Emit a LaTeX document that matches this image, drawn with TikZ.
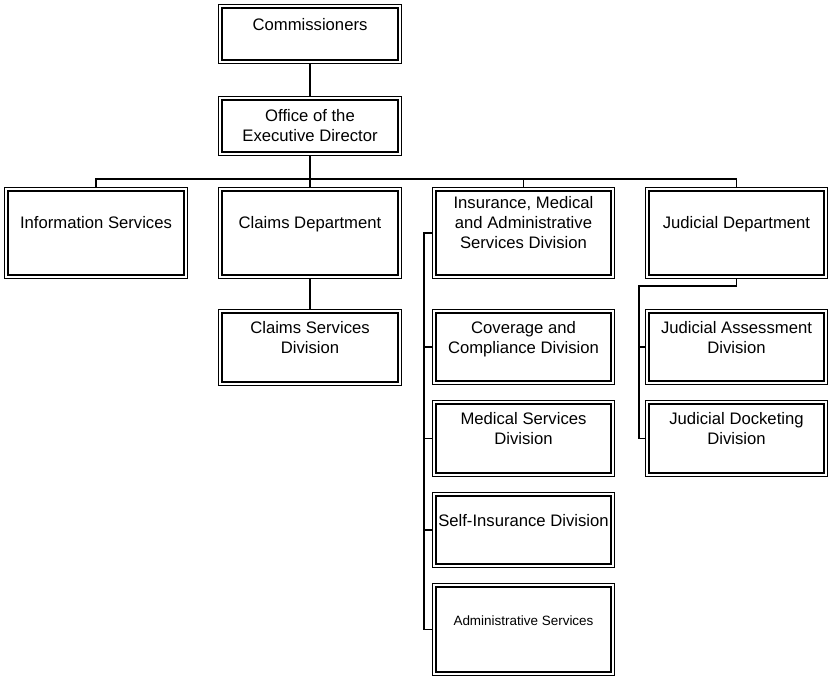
\documentclass[tikz,border=0pt]{standalone}
\usepackage{fontspec}
\setmainfont{Liberation Sans}
\newcommand\ftop{\rule{0pt}{10pt}}
\begin{document}
\begin{tikzpicture}[x=0.75pt,y=-0.75pt,
  orgbox/.style={draw=black, line width=0.9pt, double=white, double distance=1.6pt, inner sep=0pt, outer sep=2pt},
  lbl/.style={inner sep=0pt, align=center, anchor=north, yshift=10pt, font=\fontsize{12.5}{15}\selectfont},
  small/.style={font=\fontsize{10.1}{12}\selectfont},
  conn/.style={draw=black, line width=1pt}]
\useasboundingbox (0,0) rectangle (829,677);
\fill[white] (0,0) rectangle (829,677);
\newcommand\ob[5]{\node[orgbox, minimum width={(#4-#2-4.5)*0.75pt}, minimum height={(#5-#3-4.5)*0.75pt}] (#1) at ({(#2+#4)/2},{(#3+#5)/2}) {};}
\ob{comm}{218}{4}{402}{64}
\ob{office}{218}{96}{402}{156}
\ob{info}{4}{187}{188}{279}
\ob{claims}{218}{187}{402}{279}
\ob{ins}{432}{187}{615}{279}
\ob{jud}{645}{187}{828}{279}
\ob{csd}{218}{309}{402}{386}
\ob{cov}{432}{309}{615}{385}
\ob{med}{432}{400}{615}{477}
\ob{self}{432}{492}{615}{568}
\ob{admin}{432}{583}{615}{676}
\ob{jass}{645}{309}{828}{385}
\ob{jdock}{645}{400}{828}{477}
% labels
\node[lbl] (comm-t) at (310,30) {\ftop Commissioners};
\node[lbl] (office-t) at (310,121) {\ftop Office of the\\Executive Director};
\node[lbl] (info-t) at (96,228) {\ftop Information Services};
\node[lbl] (claims-t) at (310,228) {\ftop Claims Department};
\node[lbl] (ins-t) at (523.5,208) {\ftop Insurance, Medical\\and Administrative\\Services Division};
\node[lbl] (jud-t) at (736.5,228) {\ftop Judicial Department};
\node[lbl] (csd-t) at (310,333) {\ftop Claims Services\\Division};
\node[lbl] (cov-t) at (523.5,333) {\ftop Coverage and\\Compliance Division};
\node[lbl] (med-t) at (523.5,424) {\ftop Medical Services\\Division};
\node[lbl] (self-t) at (523.5,526) {\ftop Self-Insurance Division};
\node[lbl, small] (admin-t) at (523.5,625) {\ftop Administrative Services};
\node[lbl] (jass-t) at (736.5,333) {\ftop Judicial Assessment\\Division};
\node[lbl] (jdock-t) at (736.5,424) {\ftop Judicial Docketing\\Division};
% connectors
\coordinate (busy) at (0,179);
\coordinate (ispine) at (424,0);
\coordinate (jspine) at (639,286);
\draw[conn] (comm) -- (office);
\draw[conn] (office.south) -- (office.south |- busy);
\draw[conn] (info.north) -- (info.north |- busy) -- (jud.north |- busy) -- (jud.north);
\draw[conn] (claims.north) -- (claims.north |- busy);
\draw[conn] (ins.north) -- (ins.north |- busy);
\draw[conn] (claims) -- (csd);
\draw[conn] (ins.west) -- (ins.west -| ispine) -- (admin.west -| ispine) -- (admin.west);
\draw[conn] (cov.west -| ispine) -- (cov.west);
\draw[conn] (med.west -| ispine) -- (med.west);
\draw[conn] (self.west -| ispine) -- (self.west);
\draw[conn] (jud.south) -- (jud.south |- jspine) -- (jspine) -- (jspine |- jdock.west) -- (jdock.west);
\draw[conn] (jspine |- jass.west) -- (jass.west);
\end{tikzpicture}
\end{document}
